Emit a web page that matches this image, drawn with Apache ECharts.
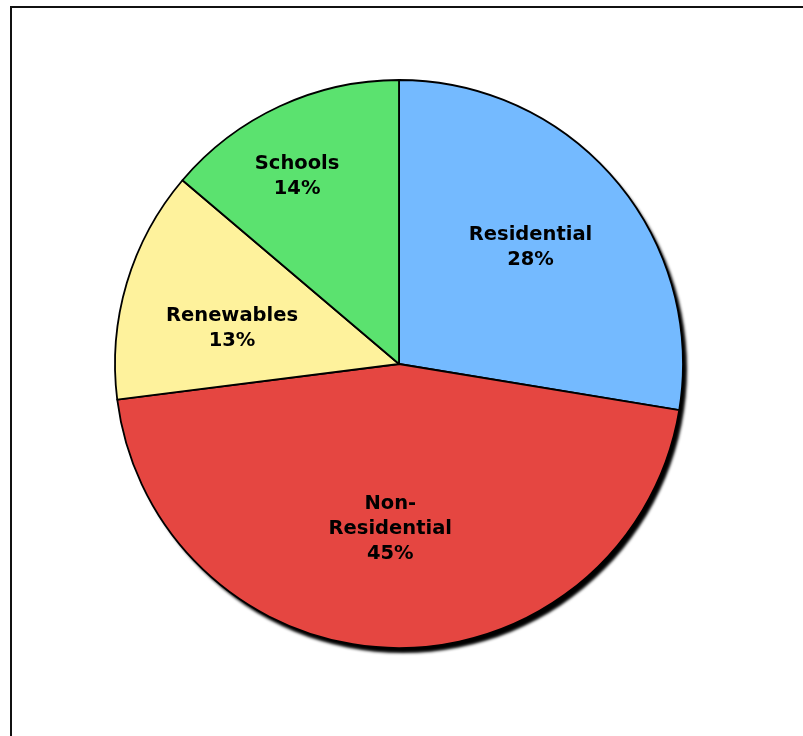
<!DOCTYPE html>
<html>
<head>
<meta charset="utf-8">
<script src="https://cdn.jsdelivr.net/npm/echarts@6/dist/echarts.min.js"></script>
<style>html,body{margin:0;padding:0;background:#fff;}#c{width:803px;height:736px;}</style>
</head>
<body>
<div id="c"></div>
<script>
const categories = ['Residential', 'Non-Residential', 'Renewables', 'Schools'];
const shares = [27.6, 45.4, 13.2, 13.8];
const colors = ['#74BAFF', '#E54641', '#FEF29C', '#5BE26F'];

// label nudges (layout only)
const labelNudge = [[21, -23], [-6, 20], [-28, 6], [-41, -56]];

const chart = echarts.init(document.getElementById('c'), null, {renderer: 'canvas'});
const total = shares.reduce((a, b) => a + b, 0);
chart.setOption({
  animation: false,
  backgroundColor: '#ffffff',
  graphic: [{
    type: 'rect',
    shape: {x: 11, y: 7, width: 900, height: 900},
    style: {fill: 'none', stroke: '#111', lineWidth: 2},
    z: 0
  }],
  series: [
    {
      type: 'pie',
      silent: true,
      center: [399, 364],
      radius: [0, 284],
      label: {show: false},
      labelLine: {show: false},
      itemStyle: {color: '#000', shadowColor: 'rgba(0,0,0,1)', shadowBlur: 3, shadowOffsetX: 4, shadowOffsetY: 5},
      data: [{value: total, name: 'shadow'}],
      z: 1
    },
    {
      type: 'pie',
      center: [399, 364],
      radius: [0, 284],
      startAngle: 90,
      clockwise: true,
      z: 2,
      itemStyle: {borderColor: '#000', borderWidth: 1.8},
      label: {
        show: true,
        position: 'inside',
        formatter: p => p.name.replace('-', '-\n') + '\n' + p.percent.toFixed(0) + '%',
        fontFamily: 'DejaVu Sans',
        fontWeight: 'bold',
        fontSize: 19.5,
        lineHeight: 25,
        color: '#000',
        align: 'center'
      },
      labelLayout: p => ({dx: labelNudge[p.dataIndex][0], dy: labelNudge[p.dataIndex][1]}),
      emphasis: {disabled: true},
      data: categories.map((c, i) => ({name: c, value: shares[i], itemStyle: {color: colors[i]}}))
    }
  ]
});
</script>
</body>
</html>
